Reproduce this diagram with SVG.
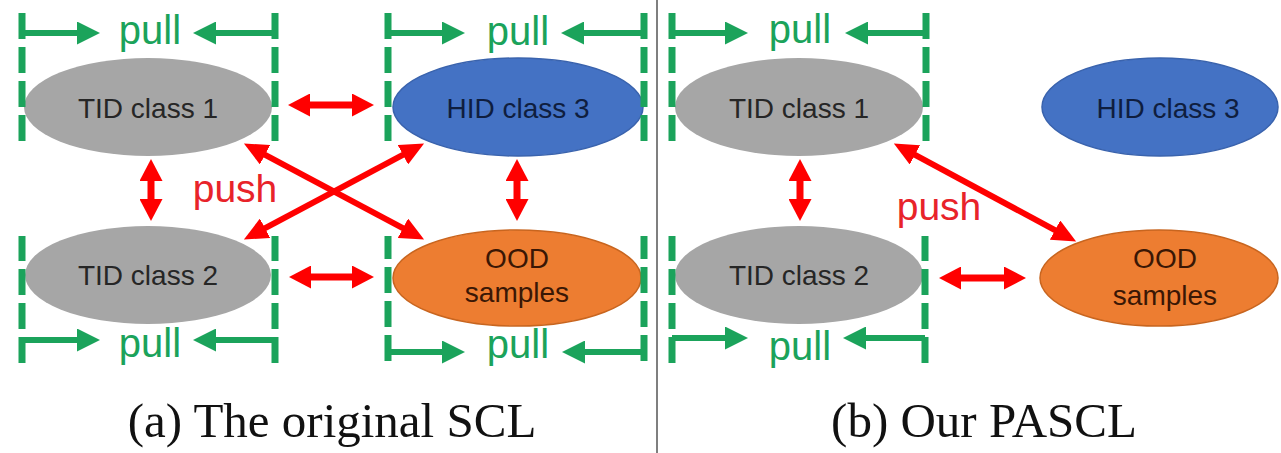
<svg xmlns="http://www.w3.org/2000/svg" width="1281" height="453" viewBox="0 0 1281 453">
<style>
.lbl{font-family:"Liberation Sans",Arial,sans-serif;font-size:28px;text-anchor:middle}
.pull{font-family:"Liberation Sans",Arial,sans-serif;font-size:40px;fill:#1ba35b;text-anchor:middle}
.push{font-family:"Liberation Sans",Arial,sans-serif;font-size:39px;fill:#e8232a;text-anchor:middle}
.cap{font-family:"Liberation Serif","Times New Roman",serif;font-size:49px;fill:#111;text-anchor:middle}
.dash{stroke:#1ba35b;stroke-width:7;stroke-dasharray:26 8;fill:none}
.garr{stroke:#1ba35b;stroke-width:6;fill:none;marker-end:url(#gh)}
.rarr{stroke:#ff0000;stroke-width:7;fill:none;marker-start:url(#rh);marker-end:url(#rh)}
.rdiag{stroke:#ff0000;stroke-width:6;fill:none;marker-start:url(#rd);marker-end:url(#rd)}
.gray{fill:#a6a6a6}
.blue{fill:#4472c4;stroke:#3a63ad;stroke-width:1.5}
.orange{fill:#ed7d31;stroke:#c8651f;stroke-width:1.5}
</style>
<defs>
<marker id="gh" markerUnits="userSpaceOnUse" markerWidth="23" markerHeight="23" viewBox="0 0 23 23" refX="1" refY="11.5" orient="auto-start-reverse"><path d="M0,0 L23,11.5 L0,23 z" fill="#1ba35b"/></marker>
<marker id="rh" markerUnits="userSpaceOnUse" markerWidth="22" markerHeight="23" viewBox="0 0 22 23" refX="1" refY="11.5" orient="auto-start-reverse"><path d="M0,0 L22,11.5 L0,23 z" fill="#ff0000"/></marker>
<marker id="rd" markerUnits="userSpaceOnUse" markerWidth="24" markerHeight="22" viewBox="0 0 24 22" refX="1" refY="11" orient="auto-start-reverse"><path d="M0,0 L24,11 L0,22 z" fill="#ff0000"/></marker>
</defs>
<rect width="1281" height="453" fill="#ffffff"/>
<line x1="657" y1="0" x2="657" y2="453" stroke="#555555" stroke-width="1.5"/>

<g id="a-tid1">
<ellipse class="gray" cx="148" cy="107" rx="124" ry="49"/>
<text class="lbl" x="148" y="118" fill="#262626">TID class 1</text>
</g>
<g id="a-hid3">
<ellipse class="blue" cx="518" cy="107" rx="125" ry="49"/>
<text class="lbl" x="518" y="118" fill="#0f1e3f">HID class 3</text>
</g>
<g id="a-tid2">
<ellipse class="gray" cx="148" cy="275" rx="123" ry="49"/>
<text class="lbl" x="148" y="285" fill="#262626">TID class 2</text>
</g>
<g id="a-ood">
<ellipse class="orange" cx="517" cy="278" rx="124" ry="48"/>
<text class="lbl" x="517" y="268" fill="#3a1705">OOD</text>
<text class="lbl" x="517" y="302" fill="#3a1705">samples</text>
</g>

<g id="b-tid1">
<ellipse class="gray" cx="799" cy="107" rx="124" ry="49"/>
<text class="lbl" x="799" y="118" fill="#262626">TID class 1</text>
</g>
<g id="b-hid3">
<ellipse class="blue" cx="1160" cy="107" rx="118" ry="49"/>
<text class="lbl" x="1168" y="118" fill="#0f1e3f">HID class 3</text>
</g>
<g id="b-tid2">
<ellipse class="gray" cx="799" cy="275" rx="124" ry="49"/>
<text class="lbl" x="799" y="285" fill="#262626">TID class 2</text>
</g>
<g id="b-ood">
<ellipse class="orange" cx="1159" cy="278" rx="119" ry="48"/>
<text class="lbl" x="1165" y="268" fill="#3a1705">OOD</text>
<text class="lbl" x="1165" y="305" fill="#3a1705">samples</text>
</g>

<g id="pull-brackets">
<!-- a TID1 -->
<line class="dash" x1="22" y1="13" x2="22" y2="141"/>
<line class="dash" x1="275" y1="13" x2="275" y2="141"/>
<line class="garr" x1="22" y1="33" x2="78" y2="33"/>
<line class="garr" x1="275" y1="33" x2="215" y2="33"/>
<text class="pull" x="150" y="44">pull</text>
<!-- a HID3 -->
<line class="dash" x1="388" y1="13" x2="388" y2="141"/>
<line class="dash" x1="644" y1="13" x2="644" y2="141"/>
<line class="garr" x1="388" y1="33" x2="443" y2="33"/>
<line class="garr" x1="644" y1="33" x2="583" y2="33"/>
<text class="pull" x="518" y="45">pull</text>
<!-- a TID2 -->
<line class="dash" x1="22" y1="363" x2="22" y2="236"/>
<line class="dash" x1="275" y1="363" x2="275" y2="236"/>
<line class="garr" x1="22" y1="340" x2="78" y2="340"/>
<line class="garr" x1="275" y1="340" x2="215" y2="340"/>
<text class="pull" x="150" y="357">pull</text>
<!-- a OOD -->
<line class="dash" x1="388" y1="361" x2="388" y2="236"/>
<line class="dash" x1="644" y1="361" x2="644" y2="236"/>
<line class="garr" x1="388" y1="352" x2="443" y2="352"/>
<line class="garr" x1="644" y1="352" x2="584" y2="352"/>
<text class="pull" x="518" y="358">pull</text>
<!-- b TID1 -->
<line class="dash" x1="672" y1="13" x2="672" y2="141"/>
<line class="dash" x1="926" y1="13" x2="926" y2="141"/>
<line class="garr" x1="672" y1="33" x2="726" y2="33"/>
<line class="garr" x1="926" y1="33" x2="867" y2="33"/>
<text class="pull" x="800" y="43">pull</text>
<!-- b TID2 -->
<line class="dash" x1="672" y1="363" x2="672" y2="236"/>
<line class="dash" x1="925" y1="363" x2="925" y2="236"/>
<line class="garr" x1="672" y1="338" x2="726" y2="338"/>
<line class="garr" x1="925" y1="338" x2="865" y2="338"/>
<text class="pull" x="800" y="360">pull</text>
</g>

<g id="connectors">
<line class="rarr" x1="309" y1="105" x2="353" y2="105"/>
<line class="rarr" x1="310" y1="277" x2="353" y2="277"/>
<line class="rarr" x1="151" y1="180" x2="151" y2="200"/>
<line class="rarr" x1="517" y1="180" x2="517" y2="200"/>
<line class="rdiag" x1="264.2" y1="154.3" x2="403.8" y2="228.7"/>
<line class="rdiag" x1="403.8" y1="154.3" x2="264.2" y2="228.7"/>
<line class="rarr" x1="800" y1="180" x2="800" y2="200"/>
<line class="rarr" x1="960" y1="278" x2="1005" y2="278"/>
<line class="rdiag" x1="914.1" y1="154.4" x2="1055.9" y2="230.6"/>
</g>

<text class="push" x="235" y="202">push</text>
<text class="push" x="939" y="220">push</text>

<text class="cap" x="332" y="437">(a) The original SCL</text>
<text class="cap" x="984" y="437">(b) Our PASCL</text>
</svg>
